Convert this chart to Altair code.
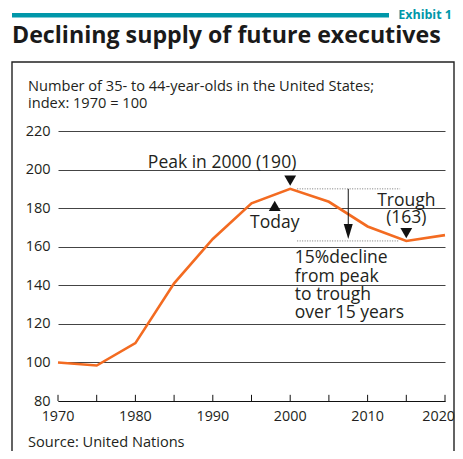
import altair as alt
import pandas as pd

FONT = "Open Sans"
TXT = "#231F20"
TEAL = "#0097A9"
ORANGE = "#F36B21"

# ---- data ----
years = [1970, 1975, 1980, 1985, 1990, 1995, 2000, 2005, 2010, 2015, 2020]
index_vals = [100, 98.4, 110, 141, 164, 182.5, 190, 183.3, 170.5, 163, 166]
x_labels = [1970, 1980, 1990, 2000, 2010]
x_last_label = [2020]
x_ticks = [1970, 1975, 1980, 1985, 1990, 1995, 2000, 2005, 2010, 2015, 2020]
y_ticks = [80, 100, 120, 140, 160, 180, 200, 220]

title_text = "Declining supply of future executives"
exhibit_text = "Exhibit 1"
subtitle_lines = ["Number of 35- to 44-year-olds in the United States;", "index: 1970 = 100"]
source_text = "Source: United Nations"

peak_year, peak_val = 2000, 190
trough_year, trough_val = 2015, 163
today_year = 1998

W, H = 387, 270

df = pd.DataFrame({"year": years, "index": index_vals})

xs = alt.Scale(domain=[1970, 2020], nice=False, zero=False)
ys = alt.Scale(domain=[80, 220], nice=False, zero=False)

x_axis = alt.Axis(values=x_ticks, title=None, grid=False, ticks=False, labels=False,
                  domain=True, domainColor="#111", domainWidth=1)
y_axis = alt.Axis(values=y_ticks, title=None, grid=True, gridColor="#444", gridWidth=1,
                  ticks=False, domain=False, labelFont=FONT, labelFontSize=14.5,
                  labelColor=TXT, labelPadding=8, labelOverlap=False)


def X(f):
    return alt.X(f, scale=xs, axis=x_axis)


def Y(f):
    return alt.Y(f, scale=ys, axis=y_axis)


line = alt.Chart(df).mark_line(color=ORANGE, strokeWidth=2.6).encode(
    x=X("year:Q"), y=Y("index:Q"))

ticks_df = pd.DataFrame({"year": x_ticks, "lo": [80] * len(x_ticks), "hi": [83.2] * len(x_ticks)})
ticks = alt.Chart(ticks_df).mark_rule(color="#111", strokeWidth=1).encode(
    x=X("year:Q"), y=Y("lo:Q"), y2="hi:Q")

# x labels as text marks at the axis baseline
xl_df = pd.DataFrame({"year": x_labels, "v": [80] * len(x_labels)})
xlab = alt.Chart(xl_df).mark_text(
    font=FONT, fontSize=14.3, color=TXT, align="center", baseline="top", dy=9
).encode(x=X("year:Q"), y=Y("v:Q"), text=alt.Text("year:Q", format="d"))
xl2_df = pd.DataFrame({"year": x_last_label, "v": [80]})
xlab2 = alt.Chart(xl2_df).mark_text(
    font=FONT, fontSize=14.3, color=TXT, align="right", baseline="top", dy=9, dx=10
).encode(x=X("year:Q"), y=Y("v:Q"), text=alt.Text("year:Q", format="d"))

# dotted reference lines
dots_df = pd.DataFrame({"x1": [2000.9, 2000.9], "x2": [2014.2, 2014.0], "v": [peak_val, trough_val]})
dots = alt.Chart(dots_df).mark_rule(color="#777", strokeWidth=1, strokeDash=[1, 1.5]).encode(
    x=X("x1:Q"), x2="x2:Q", y=Y("v:Q"))

# arrow
arrow_df = pd.DataFrame({"x": [2007.5], "a": [peak_val], "b": [171.5]})
arrow = alt.Chart(arrow_df).mark_rule(color="#111", strokeWidth=1).encode(
    x=X("x:Q"), y=Y("a:Q"), y2="b:Q")
head_df = pd.DataFrame({"x": [2007.5], "y": [167.9]})
head = alt.Chart(head_df).mark_point(
    shape="M-0.6,-1L0.6,-1L0,1Z", size=225, filled=True, color="#111", opacity=1
).encode(x=X("x:Q"), y=Y("y:Q"))

# triangles
tri_down_df = pd.DataFrame({"x": [peak_year, trough_year], "y": [194.3, 167.1]})
tri_down = alt.Chart(tri_down_df).mark_point(
    shape="triangle-down", size=140, filled=True, color="#111", opacity=1
).encode(x=X("x:Q"), y=Y("y:Q"))
tri_up_df = pd.DataFrame({"x": [today_year], "y": [181.2]})
tri_up = alt.Chart(tri_up_df).mark_point(
    shape="triangle-up", size=140, filled=True, color="#111", opacity=1
).encode(x=X("x:Q"), y=Y("y:Q"))

# annotation texts (in data coordinates)
ann_c_df = pd.DataFrame({
    "x": [1991.2, today_year, 2015],
    "y": [200.8, 169.7, 181.3],
    "t": ["Peak in 2000 (190)", "Today", "Trough\n(163)"],
})
ann_c = alt.Chart(ann_c_df).mark_text(
    font=FONT, fontSize=17.5, color=TXT, align="center", baseline="alphabetic",
    lineBreak="\n", lineHeight=17.5
).encode(x=X("x:Q"), y=Y("y:Q"), text="t:N")

ann_l_df = pd.DataFrame({"x": [2000.6], "y": [151.4],
                         "t": ["15%decline\nfrom peak\nto trough\nover 15 years"]})
ann_l = alt.Chart(ann_l_df).mark_text(
    font=FONT, fontSize=17.5, color=TXT, align="left", baseline="alphabetic",
    lineBreak="\n", lineHeight=18.3
).encode(x=X("x:Q"), y=Y("y:Q"), text="t:N")

# decorations outside the plot area (pixel positions relative to plot origin)
box = alt.Chart(pd.DataFrame({"d": [0]})).mark_rect(
    fill=None, stroke="#222", strokeWidth=1.4
).encode(x=alt.value(-46), x2=alt.value(396), y=alt.value(-69), y2=alt.value(360))

bar = alt.Chart(pd.DataFrame({"d": [0]})).mark_rect(color=TEAL).encode(
    x=alt.value(-46), x2=alt.value(331), y=alt.value(-118), y2=alt.value(-113.5))

exhibit = alt.Chart(pd.DataFrame({"t": [exhibit_text]})).mark_text(
    font=FONT, fontSize=12.5, fontWeight="bold", color=TEAL, align="right", baseline="alphabetic"
).encode(x=alt.value(394), y=alt.value(-112.5), text="t:N")

title = alt.Chart(pd.DataFrame({"t": [title_text]})).mark_text(
    font=FONT, fontSize=23.2, fontWeight="bold", color="#1A1A1A", align="left", baseline="alphabetic"
).encode(x=alt.value(-46), y=alt.value(-88), text="t:N")

sub1 = alt.Chart(pd.DataFrame({"t": [subtitle_lines[0]]})).mark_text(
    font=FONT, fontSize=14.6, color=TXT, align="left", baseline="alphabetic"
).encode(x=alt.value(-30), y=alt.value(-40), text="t:N")
sub2 = alt.Chart(pd.DataFrame({"t": [subtitle_lines[1]]})).mark_text(
    font=FONT, fontSize=14.6, color=TXT, align="left", baseline="alphabetic"
).encode(x=alt.value(-30), y=alt.value(-23), text="t:N")

src = alt.Chart(pd.DataFrame({"t": [source_text]})).mark_text(
    font=FONT, fontSize=14.6, color=TXT, align="left", baseline="alphabetic"
).encode(x=alt.value(-30), y=alt.value(315.5), text="t:N")

chart = alt.layer(
    line, ticks, xlab, xlab2, box, bar, exhibit, title, sub1, sub2, src,
    dots, arrow, head, tri_down, tri_up, ann_c, ann_l
).properties(
    width=W, height=H,
    autosize=alt.AutoSizeParams(type="none"),
    padding={"left": 50, "top": 123, "right": 10, "bottom": 50},
).configure_view(stroke=None)

chart.save("out.html", embed_options={"renderer": "svg", "actions": False})
